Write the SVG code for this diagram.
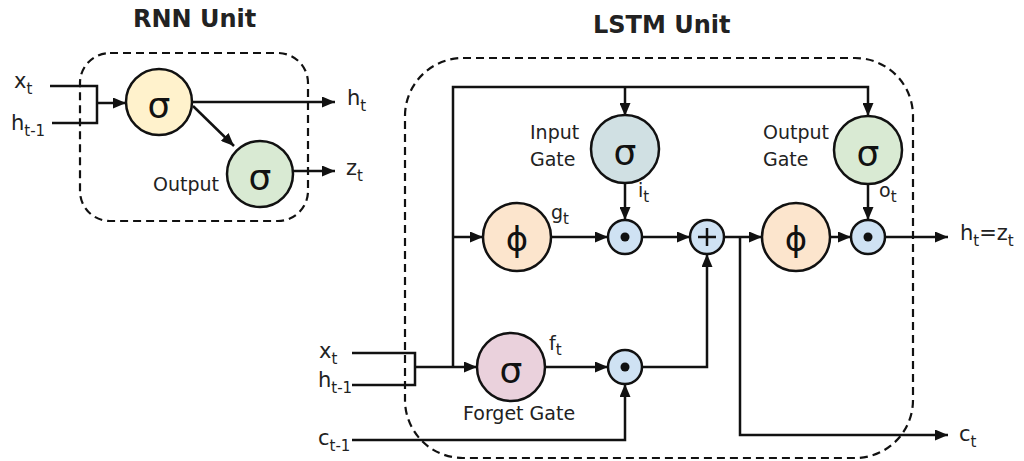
<svg xmlns="http://www.w3.org/2000/svg" width="1024" height="461" viewBox="0 0 1024 461">
<style>
.title{font-family:"DejaVu Sans",sans-serif;font-weight:bold;font-size:24px;fill:#222}
.lbl{font-family:"DejaVu Sans",sans-serif;font-size:19px;fill:#222}
.var{font-family:"DejaVu Sans",sans-serif;font-size:21px;fill:#222}
.sym{font-family:"DejaVu Sans",sans-serif;font-size:36px;fill:#111;text-anchor:middle}
.phi{font-family:"DejaVu Sans",sans-serif;font-size:34px;fill:#111;text-anchor:middle}
.box{fill:none;stroke:#111;stroke-width:2.2;stroke-dasharray:8 5}
.gate{stroke:#111;stroke-width:2.5}
.op{fill:#cfe2f3;stroke:#111;stroke-width:2.5}
.ln{fill:none;stroke:#111;stroke-width:2.5}
.arr{fill:none;stroke:#111;stroke-width:2.5;marker-end:url(#ah)}
</style>
<defs>
<marker id="ah" markerUnits="userSpaceOnUse" markerWidth="13" markerHeight="11" refX="13" refY="5.5" orient="auto">
<path d="M0,0 L13,5.5 L0,11 z" fill="#111"/>
</marker>
</defs>
<rect width="1024" height="461" fill="#fff"/>

<text class="title" x="133" y="27">RNN Unit</text>
<text class="title" x="593" y="33">LSTM Unit</text>

<rect class="box" x="80" y="53" width="228" height="168" rx="30"/>
<rect class="box" x="405" y="58" width="508" height="400" rx="58"/>

<g id="connectors">
<path class="ln" d="M50,86 H97 V123 H52"/>
<path class="arr" d="M97,103 H126"/>
<path class="arr" d="M192,102 H335"/>
<path class="arr" d="M193,106 L234,146"/>
<path class="arr" d="M293,171 H335"/>

<path class="ln" d="M352,353 H415 V385 H352"/>
<path class="arr" d="M415,367 H477"/>
<path class="arr" d="M453,367 V87 H868 V116"/>
<path class="arr" d="M625,87 V116"/>
<path class="arr" d="M453,237 H483"/>
<path class="arr" d="M551,237 H608"/>
<path class="arr" d="M625,183 V220"/>
<path class="arr" d="M642,237 H690"/>
<path class="arr" d="M724,237 H762"/>
<path class="arr" d="M740,237 V435 H948"/>
<path class="arr" d="M830,237 H851"/>
<path class="arr" d="M868,184 V220"/>
<path class="arr" d="M885,237 H948"/>
<path class="arr" d="M545,367 H608"/>
<path class="arr" d="M642,367 H707 V254"/>
<path class="arr" d="M352,440 H625 V384"/>
</g>

<g id="rnn-sigma">
<circle class="gate" cx="159" cy="102" r="33" fill="#fff2cc"/>
<text class="sym" x="159" y="118">σ</text>
</g>
<g id="rnn-output">
<circle class="gate" cx="260" cy="174" r="33" fill="#d9ead3"/>
<text class="sym" x="260" y="190">σ</text>
<text class="lbl" x="153" y="191">Output</text>
</g>
<g id="rnn-labels">
<text class="var" x="14" y="88">x<tspan dy="6" font-size="15">t</tspan></text>
<text class="var" x="11" y="130">h<tspan dy="6" font-size="15">t-1</tspan></text>
<text class="var" x="347" y="105">h<tspan dy="6" font-size="15">t</tspan></text>
<text class="var" x="346" y="175">z<tspan dy="6" font-size="15">t</tspan></text>
</g>

<g id="input-gate">
<circle class="gate" cx="625" cy="149" r="34" fill="#d0e0e3"/>
<text class="sym" x="625" y="165">σ</text>
<text class="lbl" x="530" y="139">Input</text>
<text class="lbl" x="530" y="166">Gate</text>
<text class="lbl" x="638" y="197">i<tspan dy="5" font-size="15">t</tspan></text>
</g>
<g id="output-gate">
<circle class="gate" cx="868" cy="150" r="34" fill="#d9ead3"/>
<text class="sym" x="868" y="166">σ</text>
<text class="lbl" x="763" y="139">Output</text>
<text class="lbl" x="763" y="166">Gate</text>
<text class="lbl" x="879" y="197">o<tspan dy="5" font-size="15">t</tspan></text>
</g>
<g id="input-modulation">
<circle class="gate" cx="517" cy="237" r="34" fill="#fce5cd"/>
<text class="phi" x="517" y="251">ϕ</text>
<text class="lbl" x="551" y="219">g<tspan dy="5" font-size="15">t</tspan></text>
</g>
<g id="forget-gate">
<circle class="gate" cx="511" cy="367" r="34" fill="#ead1dc"/>
<text class="sym" x="511" y="383">σ</text>
<text class="lbl" x="549" y="350">f<tspan dy="5" font-size="15">t</tspan></text>
<text class="lbl" x="463" y="420">Forget Gate</text>
</g>
<g id="mult-input">
<circle class="op" cx="625" cy="237" r="17"/>
<circle cx="625" cy="237" r="4.5" fill="#111"/>
</g>
<g id="add-cell">
<circle class="op" cx="707" cy="237" r="17"/>
<path class="ln" d="M698,237 H716 M707,228 V246" stroke-width="2"/>
</g>
<g id="tanh-cell">
<circle class="gate" cx="796" cy="237" r="34" fill="#fce5cd"/>
<text class="phi" x="796" y="251">ϕ</text>
</g>
<g id="mult-output">
<circle class="op" cx="868" cy="237" r="17"/>
<circle cx="868" cy="237" r="4.5" fill="#111"/>
</g>
<g id="mult-forget">
<circle class="op" cx="625" cy="367" r="17"/>
<circle cx="625" cy="367" r="4.5" fill="#111"/>
</g>
<g id="lstm-labels">
<text class="var" x="319" y="358">x<tspan dy="6" font-size="15">t</tspan></text>
<text class="var" x="318" y="387">h<tspan dy="6" font-size="15">t-1</tspan></text>
<text class="var" x="318" y="445">c<tspan dy="6" font-size="15">t-1</tspan></text>
<text class="var" x="959" y="441">c<tspan dy="6" font-size="15">t</tspan></text>
<text class="var" x="960" y="240">h<tspan dy="6" font-size="15">t</tspan><tspan dy="-6">=z</tspan><tspan dy="6" font-size="15">t</tspan></text>
</g>
</svg>
